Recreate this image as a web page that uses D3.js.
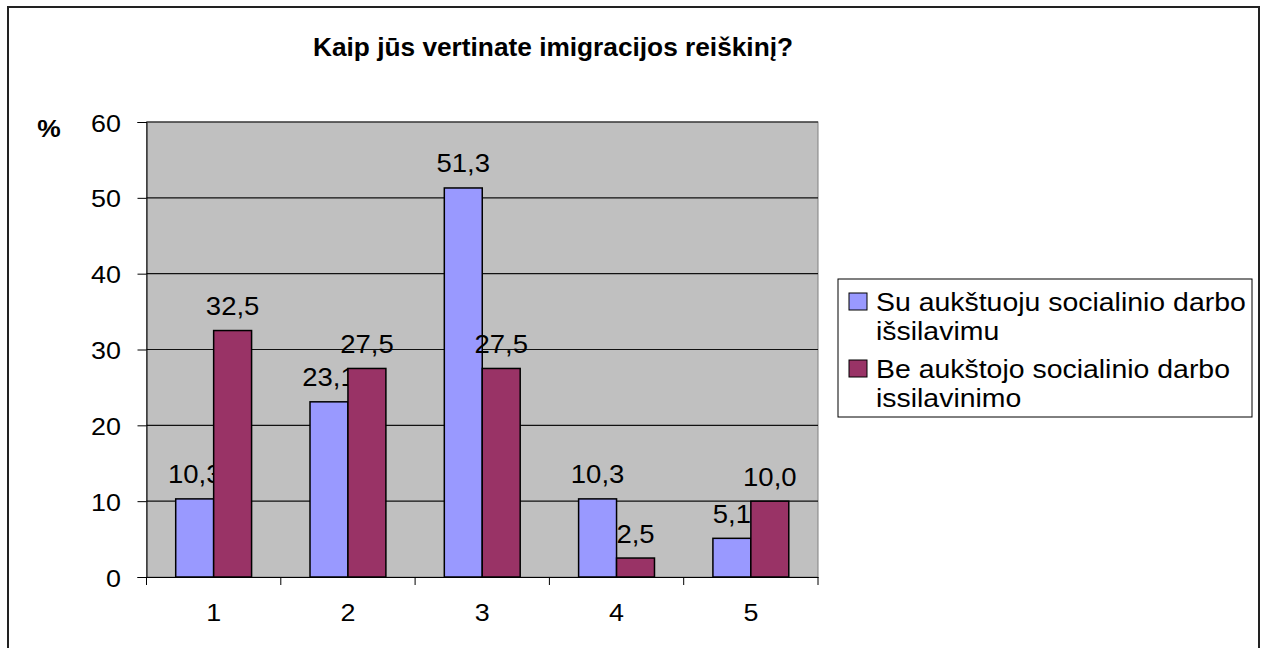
<!DOCTYPE html>
<html>
<head>
<meta charset="utf-8">
<script src="https://cdn.jsdelivr.net/npm/d3@7"></script>
<style>
  body { margin: 0; background: #fff; }
  svg text { font-family: "Liberation Sans", Arial, sans-serif; fill: #000; }
</style>
</head>
<body>
<div id="vis"></div>
<script>
var width = 1266,
    height = 648;

// data
var categories = ["1", "2", "3", "4", "5"];
var seriesNames = ["Su aukštuoju socialinio darbo išsilavimu", "Be aukštojo socialinio darbo issilavinimo"];
var legendLines = [["Su aukštuoju socialinio darbo", "išsilavimu"], ["Be aukštojo socialinio darbo", "issilavinimo"]];
var withDegree = [10.3, 23.1, 51.3, 10.3, 5.1];
var withoutDegree = [32.5, 27.5, 27.5, 2.5, 10.0];
var yTicks = [0, 10, 20, 30, 40, 50, 60];
var colors = ["#9999FF", "#993366"];
var titleText = "Kaip jūs vertinate imigracijos reiškinį?";

var plot = {left: 146.5, right: 818, top: 122, bottom: 577};

var svg = d3.select("#vis").append("svg")
    .attr("width", width)
    .attr("height", height);

// outer frame
svg.append("rect")
    .attr("x", 8).attr("y", 7)
    .attr("width", 1251).attr("height", 700)
    .attr("fill", "none")
    .attr("stroke", "#222")
    .attr("stroke-width", 2);

var y = d3.scaleLinear().domain([0, 60]).range([plot.bottom, plot.top]);
var x0 = d3.scaleBand().domain(categories).range([plot.left, plot.right]);
var bw = x0.bandwidth();
var x1 = d3.scaleBand().domain([0, 1]).range([bw * 0.2175, bw * 0.7825]);

// plot area
svg.append("rect")
    .attr("x", plot.left).attr("y", plot.top)
    .attr("width", plot.right - plot.left)
    .attr("height", plot.bottom - plot.top)
    .attr("fill", "#C0C0C0")
    .attr("stroke", "#808080")
    .attr("stroke-width", 1);

// gridlines
svg.append("g").selectAll("line")
    .data(yTicks.filter(function(d) { return d > 0; }))
    .enter().append("line")
    .attr("x1", plot.left).attr("x2", plot.right)
    .attr("y1", function(d) { return y(d); })
    .attr("y2", function(d) { return y(d); })
    .attr("stroke", "#111")
    .attr("stroke-width", 1.2);

var fmt = function(v) { return d3.format(".1f")(v).replace(".", ","); };

function drawSeries(vals, i) {
    var g = svg.append("g");
    g.selectAll("rect")
        .data(vals)
        .enter().append("rect")
        .attr("x", function(d, j) { return x0(categories[j]) + x1(i); })
        .attr("y", function(d) { return y(d); })
        .attr("width", x1.bandwidth())
        .attr("height", function(d) { return y(0) - y(d); })
        .attr("fill", colors[i])
        .attr("stroke", "#000")
        .attr("stroke-width", 1.5);
    g.selectAll("text")
        .data(vals)
        .enter().append("text")
        .attr("text-anchor", "middle")
        .style("font-size", "25px")
        .attr("transform", function(d, j) {
            var cx = x0(categories[j]) + x1(i) + x1.bandwidth() / 2;
            return "translate(" + cx + "," + (y(d) - 15.5) + ") scale(1.1,1)";
        })
        .text(function(d) { return fmt(d); });
}
drawSeries(withDegree, 0);
drawSeries(withoutDegree, 1);

// y axis
var yAxis = svg.append("g")
    .attr("transform", "translate(" + plot.left + ",0)")
    .call(d3.axisLeft(y).tickValues(yTicks).tickSize(9).tickFormat(d3.format("d")));
yAxis.select(".domain").attr("stroke", "#000");
yAxis.selectAll(".tick line").attr("stroke", "#000");
yAxis.selectAll(".tick text")
    .attr("x", null).attr("dy", null)
    .attr("fill", "#000")
    .style("font-size", "24px")
    .style("font-family", "Liberation Sans, Arial, sans-serif")
    .attr("transform", "translate(-25.5,9) scale(1.12,1)");

// x axis
var xAxis = svg.append("g")
    .attr("transform", "translate(0," + plot.bottom + ")")
    .call(d3.axisBottom(x0).tickSize(0));
xAxis.select(".domain").attr("stroke", "#000");
xAxis.selectAll(".tick text")
    .attr("y", null).attr("dy", null)
    .attr("fill", "#000")
    .style("font-size", "24px")
    .style("font-family", "Liberation Sans, Arial, sans-serif")
    .attr("transform", "translate(0,44) scale(1.12,1)");
var bounds = categories.map(function(c) { return x0(c); }).concat([plot.right]);
xAxis.selectAll(".bound")
    .data(bounds)
    .enter().append("line")
    .attr("class", "bound")
    .attr("x1", function(d) { return d; })
    .attr("x2", function(d) { return d; })
    .attr("y1", 0).attr("y2", 8)
    .attr("stroke", "#000");

// title
svg.append("text")
    .attr("text-anchor", "middle")
    .attr("transform", "translate(553,56) scale(1.03,1)")
    .style("font-size", "25.5px")
    .style("font-weight", "bold")
    .text(titleText);

// % label
svg.append("text")
    .attr("text-anchor", "middle")
    .attr("transform", "translate(49,137) scale(1.1,1)")
    .style("font-size", "24px")
    .style("font-weight", "bold")
    .text("%");

// legend
var legend = svg.append("g").attr("id", "legend");
legend.append("rect")
    .attr("x", 838).attr("y", 279)
    .attr("width", 414).attr("height", 138)
    .attr("fill", "#fff")
    .attr("stroke", "#000")
    .attr("stroke-width", 1);

var legenditem = legend.selectAll(".legenditem")
    .data(seriesNames)
    .enter().append("g")
    .attr("class", "legenditem")
    .attr("transform", function(d, i) { return "translate(0," + (i * 67) + ")"; });

legenditem.append("rect")
    .attr("x", 849).attr("y", 293)
    .attr("width", 18).attr("height", 17)
    .attr("fill", function(d, i) { return colors[i]; })
    .attr("stroke", "#000")
    .attr("stroke-width", 1);

legenditem.each(function(d, i) {
    d3.select(this).selectAll("text")
        .data(legendLines[i])
        .enter().append("text")
        .style("font-size", "25.5px")
        .attr("transform", function(t, k) { return "translate(876," + (311 + k * 29) + ") scale(1.115,1)"; })
        .text(function(t) { return t; });
});
</script>
</body>
</html>
